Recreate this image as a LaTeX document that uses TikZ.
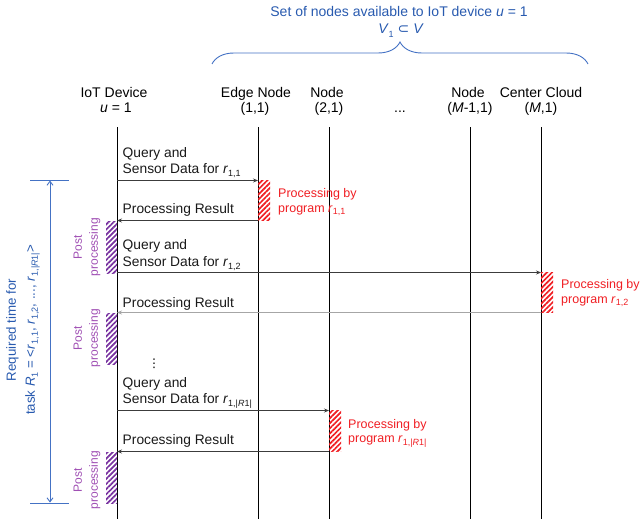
\documentclass[tikz,border=0pt]{standalone}
\usepackage{fontspec}
\setmainfont{Liberation Sans}
\newfontfamily\dejavu{DejaVu Sans}
\usetikzlibrary{arrows.meta,decorations.pathreplacing,patterns.meta}
\definecolor{msgc}{RGB}{60,60,60}
\definecolor{bluet}{RGB}{40,90,175}
\definecolor{blueb}{RGB}{68,114,196}
\definecolor{redt}{RGB}{240,30,35}
\definecolor{purt}{RGB}{160,80,180}
\definecolor{purh}{RGB}{120,50,160}
\newcommand\mysub[1]{\raisebox{-0.45ex}{\fontsize{9}{9}\selectfont #1}}
\begin{document}
\begin{tikzpicture}[x=1pt,y=-1pt,
  hdr/.style={anchor=base,inner sep=0pt,font=\fontsize{14}{16}\selectfont},
  msgtxt/.style={anchor=base west,inner sep=0pt,font=\fontsize{13.8}{16}\selectfont,text=black!90},
  redtxt/.style={anchor=base west,inner sep=0pt,font=\fontsize{12.5}{14}\selectfont,text=redt},
  purtxt/.style={rotate=90,align=center,inner sep=0pt,font=\fontsize{12}{16}\selectfont,text=purt},
  bluetxt/.style={anchor=base,inner sep=0pt,font=\fontsize{14}{16}\selectfont,text=bluet},
  life/.style={draw=black,line width=0.9pt},
  msgarrow/.style={draw=msgc,line width=0.8pt,-{Stealth[length=5pt,width=4pt]}},
  msgarrowg/.style={draw=black!35,line width=1.8pt,-{Stealth[length=5pt,width=4pt]}},
  redbox/.style={pattern={Lines[angle=45,distance=3.6pt,line width=1.7pt]},pattern color=redt},
  purbox/.style={pattern={Lines[angle=45,distance=3.6pt,line width=1.7pt]},pattern color=purh},
]
\useasboundingbox (0,0) rectangle (640,519);

% top brace and label
\node[bluetxt] (settxt) at (399,17) {Set of nodes available to IoT device \textit{u} = 1};
\node[bluetxt] (vtxt) at (401,34) {\textit{V}\mysub{1} {\dejavu ⊂} \textit{V}};
\coordinate (bl) at (212,64);
\coordinate (br) at (588,64);
\draw[blueb,line width=0.9pt,decorate,decoration={brace,amplitude=22pt}] (bl) -- (br);

% headers
\node[hdr] (h1a) at (114,97) {IoT Device};
\node[hdr] (h1b) at (116,113) {\textit{u} = 1};
\node[hdr] (h2a) at (256,97) {Edge Node};
\node[hdr] (h2b) at (255,113) {(1,1)};
\node[hdr] (h3a) at (327,97) {Node};
\node[hdr] (h3b) at (329,113) {(2,1)};
\node[hdr] (hdots) at (400,113) {...};
\node[hdr] (h4a) at (468,97) {Node};
\node[hdr] (h4b) at (470,113) {(\textit{M}-1,1)};
\node[hdr] (h5a) at (541,97) {Center Cloud};
\node[hdr] (h5b) at (541,113) {(\textit{M},1)};

% lifelines
\coordinate (L1t) at (117,127); \coordinate (L1b) at (117,519);
\coordinate (L2t) at (258,127); \coordinate (L2b) at (258,519);
\coordinate (L3t) at (329,127); \coordinate (L3b) at (329,519);
\coordinate (L4t) at (470,127); \coordinate (L4b) at (470,519);
\coordinate (L5t) at (541,127); \coordinate (L5b) at (541,519);
\draw[life] (L1t) -- (L1b);
\draw[life] (L2t) -- (L2b);
\draw[life] (L3t) -- (L3b);
\draw[life] (L4t) -- (L4b);
\draw[life] (L5t) -- (L5b);

% processing boxes
\fill[redbox] (258,180.5) rectangle (270,220.5);
\fill[redbox] (541,272.5) rectangle (553,312.5);
\fill[redbox] (329,410.5) rectangle (341,451.5);
\fill[purbox] (106,221) rectangle (117,273);
\fill[purbox] (106,313) rectangle (117,364);
\fill[purbox] (106,452) rectangle (117,503);

% exchange 1
\node[msgtxt] (q1a) at (122.5,157) {Query and};
\node[msgtxt] (q1b) at (122.5,173.5) {Sensor Data for \textit{r}\mysub{1,1}};
\coordinate (m1s) at (117,180.5); \coordinate (m1e) at (258,180.5);
\draw[msgarrow] (m1s) -- (m1e);
\node[redtxt] (p1a) at (278,197) {Processing by};
\node[redtxt] (p1b) at (278,212) {program \textit{r}\mysub{1,1}};
\node[msgtxt] (r1) at (122.5,213) {Processing Result};
\coordinate (n1s) at (258,220.5); \coordinate (n1e) at (117,220.5);
\draw[msgarrow] (n1s) -- (n1e);
\node[purtxt] (pp1) at (87,247) {Post\\processing};

% exchange 2
\node[msgtxt] (q2a) at (122.5,249) {Query and};
\node[msgtxt] (q2b) at (122.5,266) {Sensor Data for \textit{r}\mysub{1,2}};
\coordinate (m2s) at (117,272.5); \coordinate (m2e) at (541,272.5);
\draw[msgarrow] (m2s) -- (m2e);
\node[redtxt] (p2a) at (561,288) {Processing by};
\node[redtxt] (p2b) at (561,303) {program \textit{r}\mysub{1,2}};
\node[msgtxt] (r2) at (122.5,307) {Processing Result};
\coordinate (n2s) at (541,312.5); \coordinate (n2e) at (117,312.5);
\draw[msgarrowg] (n2s) -- (n2e);
\node[purtxt] (pp2) at (87,338) {Post\\processing};

% dots
\node[inner sep=0pt,font=\dejavu\fontsize{12}{12}\selectfont] (vd) at (154,364) {⋮};

% exchange 3
\node[msgtxt] (q3a) at (122.5,387) {Query and};
\node[msgtxt] (q3b) at (122.5,403.5) {Sensor Data for \textit{r}\mysub{1,|\textit{R}1|}};
\coordinate (m3s) at (117,410.5); \coordinate (m3e) at (329,410.5);
\draw[msgarrow] (m3s) -- (m3e);
\node[redtxt] (p3a) at (348,428) {Processing by};
\node[redtxt] (p3b) at (348,442.5) {program \textit{r}\mysub{1,|\textit{R}1|}};
\node[msgtxt] (r3) at (122.5,444) {Processing Result};
\coordinate (n3s) at (329,451.5); \coordinate (n3e) at (117,451.5);
\draw[msgarrow] (n3s) -- (n3e);
\node[purtxt] (pp3) at (87,480) {Post\\processing};

% required time arrow
\coordinate (tk1a) at (30,180); \coordinate (tk1b) at (69,180);
\coordinate (tk2a) at (30,503); \coordinate (tk2b) at (69,503);
\coordinate (ta) at (50,180.5); \coordinate (tb) at (50,502.5);
\draw[blueb,line width=1pt] (tk1a) -- (tk1b);
\draw[blueb,line width=1pt] (tk2a) -- (tk2b);
\draw[blueb,line width=0.9pt,{Straight Barb[length=4pt,width=6pt]}-{Straight Barb[length=4pt,width=6pt]}] (ta) -- (tb);
\node[rotate=90,align=center,inner sep=0pt,font=\fontsize{13.3}{19}\selectfont,text=bluet] (rt) at (23,330)
  {Required time for\\task \textit{R}\mysub{1} = {<}\textit{r}\mysub{1,1}, \textit{r}\mysub{1,2}, ..., \textit{r}\mysub{1,|\textit{R}1|}{>}};
\end{tikzpicture}
\end{document}
